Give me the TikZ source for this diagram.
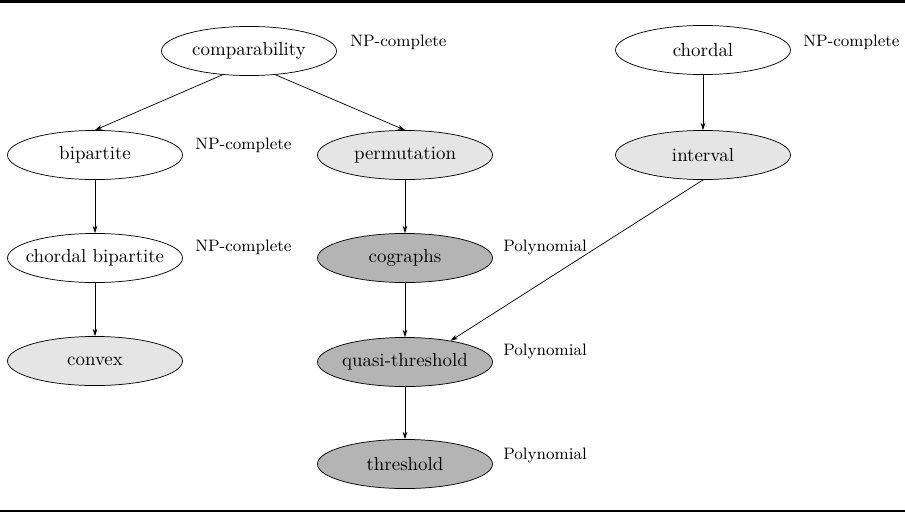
\documentclass[tikz,border=0pt]{standalone}
\usetikzlibrary{shapes.geometric,arrows.meta}
\definecolor{lightfill}{gray}{0.9}
\definecolor{darkfill}{gray}{0.705}
\begin{document}
\begin{tikzpicture}[x=0.55pt,y=-0.55pt,
  cls/.style={ellipse,draw,line width=0.4pt,minimum width=96.25pt,minimum height=27pt,inner sep=0pt,font=\fontsize{10.4}{12}\selectfont},
  light/.style={cls,fill=lightfill},
  dark/.style={cls,fill=darkfill},
  cx/.style={anchor=base west,inner sep=0pt,font=\fontsize{9.1}{11}\selectfont},
  edge/.style={-{Stealth[length=4pt,width=2.6pt]},line width=0.4pt}]
\useasboundingbox (0,0) rectangle (905,512);
\coordinate (tl) at (0,1.35);
\coordinate (tr) at (905,1.35);
\coordinate (bl) at (0,511);
\coordinate (br) at (905,511);
\draw[line width=1.5pt] (tl) -- (tr);
\draw[line width=0.8pt] (bl) -- (br);

\node[cls]   (comp)     at (249,51)  {\makebox[0pt]{comparability}};
\node[cls]   (bip)      at (95,155)  {\makebox[0pt]{bipartite}};
\node[cls]   (cbip)     at (95,258)  {\makebox[0pt]{chordal bipartite}};
\node[light] (convex)   at (95,361)  {\makebox[0pt]{convex}};
\node[light] (perm)     at (405,155) {\makebox[0pt]{permutation}};
\node[dark]  (cog)      at (405,258) {\makebox[0pt]{cographs}};
\node[dark]  (quasi)    at (405,362) {\makebox[0pt]{quasi-threshold}};
\node[dark]  (thr)      at (405,464) {\makebox[0pt]{threshold}};
\node[cls]   (chordal)  at (703,50)  {\makebox[0pt]{chordal}};
\node[light] (interval) at (703,155) {\makebox[0pt]{interval}};

\node[cx] (l1) at (350,46)  {NP-complete};
\node[cx] (l2) at (195,149) {NP-complete};
\node[cx] (l3) at (195,251) {NP-complete};
\node[cx] (l4) at (803,46)  {NP-complete};
\node[cx] (l5) at (503,251) {Polynomial};
\node[cx] (l6) at (503,355) {Polynomial};
\node[cx] (l7) at (503,459) {Polynomial};

\draw[edge] (comp.222) -- (bip.north);
\draw[edge] (comp.318) -- (perm.north);
\draw[edge] (bip.south) -- (cbip.north);
\draw[edge] (cbip.south) -- (convex.north);
\draw[edge] (perm.south) -- (cog.north);
\draw[edge] (cog.south) -- (quasi.north);
\draw[edge] (quasi.south) -- (thr.north);
\draw[edge] (chordal.south) -- (interval.north);
\draw[edge] (interval.south) -- (quasi.25);
\end{tikzpicture}
\end{document}
